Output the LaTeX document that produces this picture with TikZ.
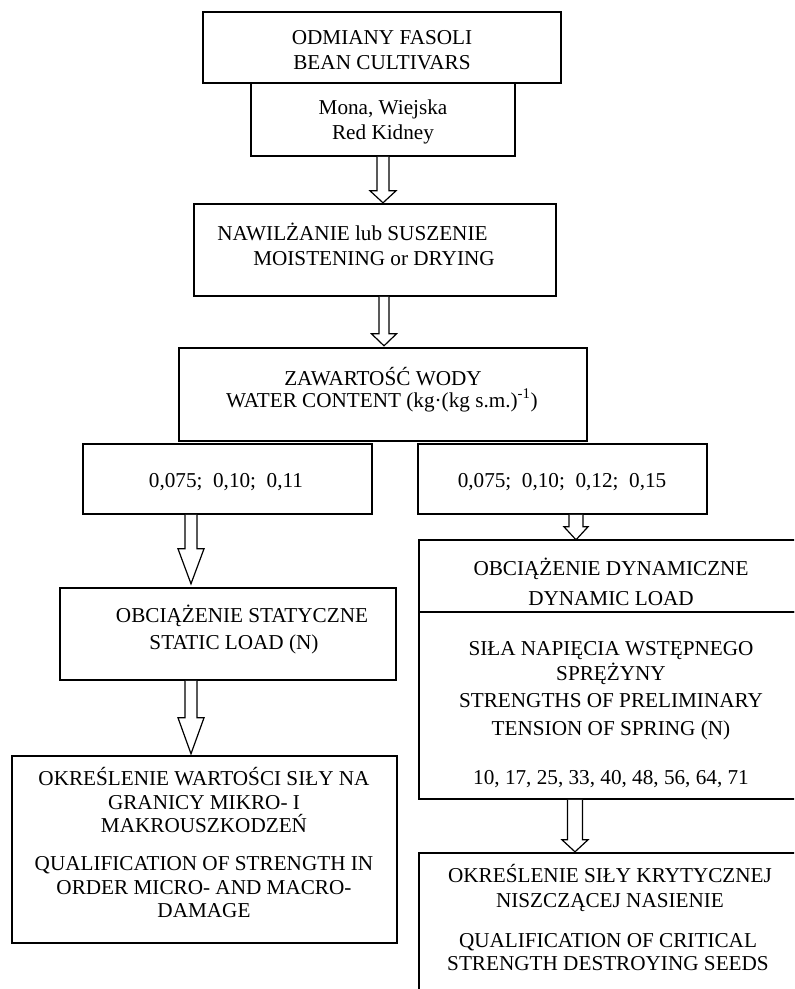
\documentclass[tikz,border=0pt]{standalone}
\usepackage{fontspec}
\setmainfont{Liberation Serif}
\usetikzlibrary{calc,fit}
\newcommand\fs{\fontsize{15.9}{18}\selectfont}
\newcommand\blockarr[5]{% start, shaft length, head length, shaft half width, head half width
  \draw[arr] (#1) ++(-#4,0) -- ++(0,#2) -- ++({#4-#5},0) -- ++(#5,#3) -- ++(#5,-#3) -- ++({#4-#5},0) -- ++(0,-#2);}
\begin{document}
\begin{tikzpicture}[x=0.75pt,y=-0.75pt,
  box/.style={draw, line width=1.2pt, inner sep=0pt},
  lbl/.style={anchor=base, inner sep=0pt, font=\fs},
  arr/.style={draw, line width=0.9pt, fill=white, line join=miter}]
\useasboundingbox (0,0) rectangle (794,989);
\clip (0,0) rectangle (794,989);
% boxes
\node[box, fit={(203,12) (561,83)}] (b1) {};
\node[box, fit={(251,83) (515,156)}] (b2) {};
\node[box, fit={(194,204) (556,296)}] (b3) {};
\node[box, fit={(179,348) (587,441)}] (b4) {};
\node[box, fit={(83,444) (372,514)}] (bA) {};
\node[box, fit={(418,444) (707,514)}] (bB) {};
\node[box, fit={(419,540) (805,612)}] (bC1) {};
\node[box, fit={(419,612) (805,799)}] (bC2) {};
\node[box, fit={(60,588) (396,680)}] (bD) {};
\node[box, fit={(12,756) (397,943)}] (bE) {};
\node[box, fit={(419,853) (805,1000)}] (bF) {};
% texts
\node[lbl] (t1a) at (382,44) {ODMIANY FASOLI};
\node[lbl] (t1b) at (382,69) {BEAN CULTIVARS};
\node[lbl] (t2a) at (383,114) {Mona, Wiejska};
\node[lbl] (t2b) at (383,139) {Red Kidney};
\node[lbl, anchor=base west] (t3a) at (217,240) {NAWILŻANIE lub SUSZENIE};
\node[lbl, anchor=base west] (t3b) at (253,265) {MOISTENING or DRYING};
\node[lbl] (t4a) at (383,385) {ZAWARTOŚĆ WODY};
\node[lbl] (t4b) at (382,407) {WATER CONTENT (kg·(kg s.m.)\textsuperscript{-1})};
\node[lbl] (tA) at (226,487) {0,075;\ \ 0,10;\ \ 0,11};
\node[lbl] (tB) at (562,487) {0,075;\ \ 0,10;\ \ 0,12;\ \ 0,15};
\node[lbl] (tC1a) at (611,575) {OBCIĄŻENIE DYNAMICZNE};
\node[lbl] (tC1b) at (611,605) {DYNAMIC LOAD};
\node[lbl] (tC2a) at (611,655) {SIŁA NAPIĘCIA WSTĘPNEGO};
\node[lbl] (tC2b) at (611,680) {SPRĘŻYNY};
\node[lbl] (tC2c) at (611,707) {STRENGTHS OF PRELIMINARY};
\node[lbl] (tC2d) at (611,735) {TENSION OF SPRING (N)};
\node[lbl] (tC2e) at (611,784) {10, 17, 25, 33, 40, 48, 56, 64, 71};
\node[lbl] (tDa) at (242,622) {OBCIĄŻENIE STATYCZNE};
\node[lbl] (tDb) at (234,649) {STATIC LOAD (N)};
\node[lbl] (tEa) at (204,785) {OKREŚLENIE WARTOŚCI SIŁY NA};
\node[lbl] (tEb) at (204,809) {GRANICY MIKRO- I};
\node[lbl] (tEc) at (204,832) {MAKROUSZKODZEŃ};
\node[lbl] (tEd) at (204,870) {QUALIFICATION OF STRENGTH IN};
\node[lbl] (tEe) at (204,894) {ORDER MICRO- AND MACRO-};
\node[lbl] (tEf) at (204,917) {DAMAGE};
\node[lbl] (tFa) at (610,882) {OKREŚLENIE SIŁY KRYTYCZNEJ};
\node[lbl] (tFb) at (610,907) {NISZCZĄCEJ NASIENIE};
\node[lbl] (tFc) at (608,947) {QUALIFICATION OF CRITICAL};
\node[lbl] (tFd) at (608,970) {STRENGTH DESTROYING SEEDS};
% block arrows
\blockarr{383,0 |- b2.south}{34}{12}{6}{13}
\blockarr{384,0 |- b3.south}{37}{12}{5}{12.5}
\blockarr{191,0 |- bA.south}{34}{35}{6}{13}
\blockarr{576,0 |- bB.south}{12}{13}{7}{12}
\blockarr{191,0 |- bD.south}{37}{36}{6}{13}
\blockarr{575,0 |- bC2.south}{40}{12}{7.5}{13}
\end{tikzpicture}
\end{document}
